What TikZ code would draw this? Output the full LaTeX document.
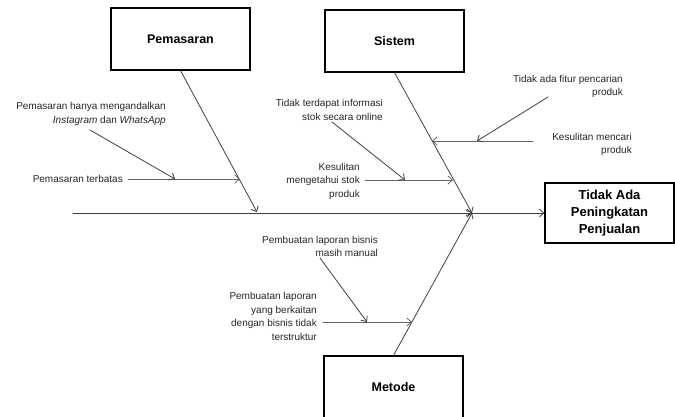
\documentclass[tikz,border=0pt]{standalone}
\usepackage{fontspec}
\setmainfont{Liberation Sans}
\usetikzlibrary{arrows.meta}
\begin{document}
\begin{tikzpicture}[x=1pt,y=-1pt,line cap=round,>={Straight Barb[length=4.5pt,width=8pt]}]
  \tikzset{
    catbox/.style={draw,line width=1.2pt,minimum width=139pt,minimum height=62pt,
      font=\bfseries\fontsize{12.5}{15}\selectfont},
    cause/.style={inner sep=1pt,align=right,text=black!85,
      font=\fontsize{10}{13.5}\selectfont},
    bone/.style={draw=black!75,line width=0.8pt},
    twig/.style={draw=black!60,line width=0.8pt,->},
  }
  \useasboundingbox (0,0) rectangle (675,417);
  \node[catbox] (pemasaran) at (180.5,39) {Pemasaran};
  \node[catbox] (sistem) at (394.5,41) {Sistem};
  \node[catbox] (metode) at (393.5,387) {Metode};
  \node[catbox,minimum width=129pt,minimum height=60pt,align=center,
    font=\bfseries\fontsize{13}{17}\selectfont] (akibat) at (609.5,213)
    {Tidak Ada\\Peningkatan\\Penjualan};
  \coordinate (ekor) at (73,213);
  \coordinate (sendi) at (472,213);
  \coordinate (pujung) at (257,212);
  \draw[bone,->] (ekor) -- (sendi);
  \draw[bone,->] (sendi) -- (akibat.west);
  \draw[bone,->] (pemasaran.south) -- (pujung);
  \draw[bone,->] (sistem.south) -- (sendi);
  \draw[bone,->] (metode.north) -- (sendi);
  % pemasaran
  \node[cause,anchor=east] (p_hanya) at (167,114)
    {Pemasaran hanya mengandalkan\\\textit{Instagram} dan \textit{WhatsApp}};
  \node[cause,anchor=east] (p_batas) at (124,179) {Pemasaran terbatas};
  \coordinate (p1a) at (128,179);
  \coordinate (p1) at (240,179);
  \coordinate (p2) at (175,179);
  \coordinate (p2a) at (90,130);
  \draw[twig] (p1a) -- (p1);
  \draw[twig,draw=black!75] (p2a) -- (p2);
  % sistem
  \node[cause,anchor=east] (s_info) at (384,110)
    {Tidak terdapat informasi\\stok secara online};
  \node[cause,anchor=east] (s_stok) at (361,181)
    {Kesulitan\\mengetahui stok\\produk};
  \node[cause,anchor=east] (s_fitur) at (624,86.5)
    {Tidak ada fitur pencarian\\produk};
  \node[cause,anchor=east] (s_cari) at (633,144.5)
    {Kesulitan mencari\\produk};
  \coordinate (s1a) at (365,180);
  \coordinate (s1) at (453,180);
  \coordinate (s2a) at (332,122);
  \coordinate (s2) at (405,180);
  \coordinate (s3a) at (533,141);
  \coordinate (s3) at (432,141);
  \coordinate (s4a) at (548,97);
  \coordinate (s4) at (477,141);
  \draw[twig] (s1a) -- (s1);
  \draw[twig,draw=black!75] (s2a) -- (s2);
  \draw[twig] (s3a) -- (s3);
  \draw[twig,draw=black!75] (s4a) -- (s4);
  % metode
  \node[cause,anchor=east] (m_manual) at (379,246.5)
    {Pembuatan laporan bisnis\\masih manual};
  \node[cause,anchor=east] (m_struktur) at (318,316.5)
    {Pembuatan laporan\\yang berkaitan\\dengan bisnis tidak\\terstruktur};
  \coordinate (m1a) at (323,322);
  \coordinate (m1) at (412,322);
  \coordinate (m2a) at (320,258);
  \coordinate (m2) at (367,322);
  \draw[twig] (m1a) -- (m1);
  \draw[twig,draw=black!75] (m2a) -- (m2);
\end{tikzpicture}
\end{document}
